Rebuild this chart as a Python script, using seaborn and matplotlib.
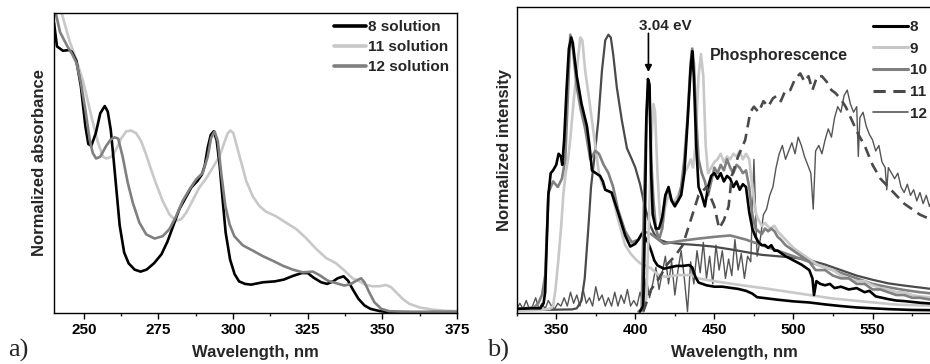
import numpy as np
import pandas as pd
import matplotlib
matplotlib.use("Agg")
import matplotlib.pyplot as plt
import seaborn as sns
from matplotlib.ticker import MultipleLocator
from matplotlib.lines import Line2D

# ---------------- absorbance in solution (panel a) ----------------
abs8_wl = [240, 241, 243, 245, 246, 247.5, 249, 250.5, 251.5, 252.5,
           254, 255.5, 257, 258, 259, 260, 261, 262, 263.5, 265,
           267, 269, 271, 273.5, 276, 278, 280, 282, 284, 286,
           288, 289.5, 290.5, 291.5, 292.5, 293.5, 294.5, 295.5, 296.5, 297.5,
           299, 300.5, 302, 304, 306, 310, 314, 317, 320, 323,
           325, 327, 329.5, 331.5, 333.5, 335, 337, 338.5, 340, 342,
           344, 346, 349, 352, 360, 375]
abs8 = [1.60, 1.47, 1.446, 1.45, 1.44, 1.39, 1.25, 1.03, 0.93, 0.92,
        0.99, 1.10, 1.14, 1.11, 1.01, 0.84, 0.66, 0.48, 0.33, 0.27,
        0.235, 0.224, 0.235, 0.27, 0.32, 0.39, 0.48, 0.57, 0.63, 0.69,
        0.725, 0.76, 0.81, 0.91, 0.98, 1.0, 0.95, 0.81, 0.62, 0.44,
        0.29, 0.21, 0.17, 0.156, 0.152, 0.165, 0.17, 0.18, 0.20, 0.216,
        0.216, 0.19, 0.165, 0.156, 0.17, 0.187, 0.198, 0.174, 0.128, 0.073,
        0.037, 0.018, 0.006, 0.0, 0.0, 0.0]

abs11_wl = [241.5, 243.5, 245.2, 247.4, 249.7, 251.3, 253, 254.7, 256.4, 257.5,
            259.2, 260.8, 262.5, 264.2, 265.8, 267.5, 269.2, 270.9, 272.5, 274.2,
            276.4, 278.7, 280.9, 282.6, 284.3, 286.5, 288.7, 291, 293.2, 295.4,
            297.1, 298.2, 299.1, 300.1, 301.2, 302.7, 304.4, 306.6, 308.8, 311,
            314.4, 317.7, 321.1, 324.4, 327.8, 331.1, 334.5, 337.3, 340, 342.3,
            344.5, 346.8, 349, 351.2, 352.9, 354.6, 356.8, 359, 362.4, 366.9,
            371.4, 375]
abs11 = [1.72, 1.60, 1.50, 1.40, 1.28, 1.17, 1.05, 0.94, 0.86, 0.85,
         0.86, 0.90, 0.96, 1.0, 1.005, 0.99, 0.945, 0.87, 0.79, 0.71,
         0.615, 0.54, 0.505, 0.514, 0.55, 0.62, 0.69, 0.74, 0.80, 0.86,
         0.94, 0.99, 1.005, 0.99, 0.92, 0.83, 0.725, 0.64, 0.587, 0.556,
         0.53, 0.495, 0.46, 0.41, 0.35, 0.30, 0.27, 0.23, 0.187, 0.17,
         0.15, 0.143, 0.143, 0.15, 0.138, 0.11, 0.073, 0.046, 0.026, 0.013,
         0.007, 0.005]

abs12_wl = [240, 242, 244.5, 246, 247.5, 249, 250.5, 252, 253, 254.1,
            255.5, 257.5, 259, 260.3, 261.5, 263, 264.7, 266.4, 268.6, 270.9,
            273.7, 276.4, 278.7, 280.9, 283.1, 285.4, 287.6, 289.8, 291.5, 292.6,
            293.8, 294.9, 296, 297.4, 298.8, 300.4, 303.2, 306.6, 309.9, 313.3,
            316.6, 320, 323.3, 326.7, 328.9, 331.7, 334.5, 337.3, 339.5, 341.7,
            342.9, 344, 345.6, 347.3, 349.6, 352.3, 360, 375]
abs12 = [1.70, 1.55, 1.47, 1.43, 1.38, 1.27, 1.12, 0.95, 0.88, 0.85,
         0.86, 0.92, 0.955, 0.967, 0.96, 0.86, 0.716, 0.605, 0.495, 0.43,
         0.407, 0.42, 0.46, 0.53, 0.615, 0.68, 0.734, 0.77, 0.86, 0.963,
         1.0, 0.945, 0.77, 0.587, 0.486, 0.42, 0.37, 0.34, 0.31, 0.284,
         0.257, 0.235, 0.22, 0.224, 0.205, 0.174, 0.16, 0.147, 0.156, 0.178,
         0.187, 0.165, 0.11, 0.055, 0.018, 0.005, 0.0, 0.0]

abs_labels = ["8 solution", "11 solution", "12 solution"]
abs_ticks = [250, 275, 300, 325, 350, 375]

# ---------------- emission (panel b) ----------------
fl8_wl = [325, 335, 340, 342, 343, 344, 345, 346.5, 348, 350,
          351.5, 353, 353.8, 355, 356.5, 358, 359.5, 360.5, 361.5, 363,
          366, 369.4, 371, 372.6, 375, 377.7, 379.5, 381, 385, 389,
          393.6, 396.8, 400, 402, 404, 406, 408, 410, 412, 414,
          418, 422, 426, 430, 434, 436, 438, 440, 445, 450,
          455, 460, 465, 470, 474, 477, 480, 490, 500, 510,
          520, 530, 540, 550, 560, 575, 590, 600]
fl8 = [0.01, 0.012, 0.012, 0.03, 0.07, 0.25, 0.42, 0.5, 0.51, 0.53,
       0.57, 0.56, 0.53, 0.62, 0.8, 0.95, 0.99, 0.97, 0.92, 0.85,
       0.75, 0.67, 0.6, 0.51, 0.5, 0.49, 0.47, 0.44, 0.43, 0.36,
       0.275, 0.235, 0.245, 0.26, 0.28, 0.27, 0.25, 0.22, 0.185, 0.167,
       0.155, 0.16, 0.165, 0.165, 0.168, 0.16, 0.125, 0.105, 0.095, 0.09,
       0.09, 0.086, 0.082, 0.075, 0.065, 0.052, 0.05, 0.043, 0.037, 0.033,
       0.026, 0.02, 0.015, 0.012, 0.009, 0.006, 0.005, 0.004]

fl9_wl = [325, 340, 346, 348, 349.5, 351.4, 353, 354.6, 356, 357.5,
          359, 361, 363, 365.2, 366.5, 368.3, 370.5, 372.6, 375.8, 377,
          379, 381, 385, 389.2, 393.6, 397, 400, 403, 406.3, 410,
          413, 416, 420, 427, 435, 440, 452, 465, 474, 482,
          503, 524, 545, 566, 586, 600]
fl9 = [0.005, 0.006, 0.01, 0.02, 0.08, 0.19, 0.3, 0.43, 0.5, 0.55,
       0.63, 0.76, 0.87, 0.99, 0.98, 0.87, 0.78, 0.69, 0.55, 0.5,
       0.46, 0.44, 0.43, 0.33, 0.24, 0.21, 0.19, 0.175, 0.167, 0.156,
       0.14, 0.128, 0.126, 0.132, 0.132, 0.12, 0.108, 0.097, 0.09, 0.084,
       0.066, 0.048, 0.036, 0.025, 0.022, 0.02]

fl10_wl = [325, 336, 338.6, 341, 343, 345.1, 348, 351, 353.6, 355.7,
           357.5, 358.9, 360.5, 363, 365.5, 368.3, 371.5, 374.7, 377, 380,
           383, 386, 389, 393.6, 397.8, 401.9, 405, 410, 418, 428,
           439, 450, 460, 470, 480, 490, 500, 510, 520, 530,
           540, 550, 560, 570, 580, 590, 600]
fl10 = [0.01, 0.015, 0.03, 0.06, 0.13, 0.43, 0.47, 0.45, 0.48, 0.55,
        0.8, 1.0, 0.95, 0.81, 0.73, 0.66, 0.55, 0.58, 0.57, 0.53,
        0.5, 0.45, 0.37, 0.29, 0.25, 0.26, 0.29, 0.28, 0.245, 0.255,
        0.263, 0.27, 0.275, 0.26, 0.24, 0.22, 0.2, 0.18, 0.16, 0.14,
        0.12, 0.1, 0.088, 0.078, 0.07, 0.064, 0.06]

fl11_wl = [325, 360, 363, 366, 368, 370.4, 372, 374, 376.6, 378.9,
           381, 383, 384.5, 386, 388.3, 391.5, 394.7, 397.8, 400, 403,
           406, 409.5, 412, 415, 420, 428, 440, 449, 460, 470,
           480, 490, 500, 510, 520, 530, 540, 550, 560, 570,
           580, 590, 600]
fl11 = [0.005, 0.008, 0.012, 0.04, 0.12, 0.31, 0.45, 0.55, 0.69, 0.87,
        0.98, 1.0, 0.99, 0.93, 0.81, 0.69, 0.59, 0.55, 0.52, 0.46,
        0.38, 0.31, 0.28, 0.26, 0.25, 0.245, 0.24, 0.235, 0.225, 0.215,
        0.205, 0.2, 0.195, 0.186, 0.17, 0.15, 0.13, 0.115, 0.102, 0.094,
        0.087, 0.08, 0.075]

ph8_wl = [403, 405, 406, 407, 408, 409, 410, 411, 413, 415,
          417, 419, 421, 423, 425, 427, 429, 431, 433, 435,
          436, 437, 438.5, 440, 442, 444, 446, 448, 450, 452,
          454, 456, 458, 460, 462, 464, 466, 468, 470, 472,
          474, 476, 478, 480, 482, 484, 486, 488, 490, 495,
          500, 505, 510, 512, 513, 514.5, 517, 520, 523, 526,
          530, 535, 540, 545, 548, 552, 556, 560, 565, 570,
          575, 580, 590, 600]
ph8 = [0.0, 0.02, 0.3, 0.7, 0.84, 0.82, 0.5, 0.35, 0.3, 0.3,
       0.34, 0.42, 0.45, 0.4, 0.38, 0.4, 0.42, 0.5, 0.68, 0.88,
       0.94, 0.85, 0.6, 0.45, 0.42, 0.38, 0.45, 0.49, 0.5, 0.48,
       0.5, 0.47, 0.49, 0.48, 0.45, 0.47, 0.44, 0.46, 0.45, 0.36,
       0.3, 0.27, 0.25, 0.24, 0.24, 0.23, 0.24, 0.22, 0.22, 0.2,
       0.185, 0.17, 0.15, 0.12, 0.06, 0.11, 0.1, 0.095, 0.1, 0.085,
       0.09, 0.08, 0.085, 0.07, 0.075, 0.055, 0.05, 0.045, 0.04, 0.038,
       0.035, 0.032, 0.028, 0.025]

ph9_wl = [405, 407, 408.5, 410, 411.5, 412.5, 414, 415.5, 417, 419,
          421, 423, 425, 427, 429, 431, 433, 435, 436.5, 438,
          440, 441.5, 443, 444.5, 446, 448, 450, 452, 454, 456,
          458, 460, 462, 464, 466, 468, 470, 472, 474, 476,
          478, 480, 482, 485, 488, 490, 495, 500, 505, 510,
          515, 520, 525, 530, 535, 540, 545, 550, 555, 560,
          565, 570, 575, 580, 590, 600]
ph9 = [0.0, 0.05, 0.3, 0.6, 0.75, 0.72, 0.5, 0.35, 0.3, 0.38,
       0.42, 0.4, 0.4, 0.42, 0.45, 0.5, 0.52, 0.55, 0.52, 0.6,
       0.85, 0.93, 0.85, 0.6, 0.5, 0.52, 0.54, 0.55, 0.57, 0.54,
       0.56, 0.55, 0.57, 0.56, 0.58, 0.55, 0.57, 0.55, 0.45, 0.36,
       0.33, 0.31, 0.32, 0.3, 0.31, 0.29, 0.26, 0.23, 0.21, 0.19,
       0.17, 0.16, 0.15, 0.13, 0.12, 0.11, 0.11, 0.095, 0.085, 0.08,
       0.07, 0.07, 0.06, 0.055, 0.05, 0.045]

ph10_wl = [402, 404, 405.5, 407, 408, 409, 410, 411.5, 413, 415,
           417, 419, 421, 423, 425, 427, 429, 431, 433, 435,
           436, 437, 438.5, 440, 442, 444, 446, 448, 450, 452,
           454, 456, 458, 460, 462, 464, 466, 468, 470, 472,
           474, 476, 478, 480, 482, 484, 486, 488, 490, 492,
           495, 500, 505, 510, 514, 520, 525, 530, 535, 540,
           545, 550, 555, 560, 565, 570, 575, 580, 590, 600]
ph10 = [0.0, 0.01, 0.4, 0.7, 0.8, 0.78, 0.55, 0.4, 0.3, 0.26,
        0.3, 0.42, 0.44, 0.4, 0.39, 0.4, 0.45, 0.55, 0.7, 0.9,
        0.95, 0.9, 0.7, 0.55, 0.5, 0.47, 0.42, 0.47, 0.52, 0.5,
        0.53, 0.51, 0.55, 0.52, 0.5, 0.53, 0.52, 0.5, 0.51, 0.45,
        0.35, 0.3, 0.29, 0.28, 0.3, 0.29, 0.3, 0.29, 0.27, 0.26,
        0.24, 0.22, 0.2, 0.18, 0.15, 0.15, 0.13, 0.12, 0.12, 0.1,
        0.1, 0.08, 0.08, 0.07, 0.06, 0.06, 0.05, 0.05, 0.04, 0.035]

ph11_wl = [405, 410, 415, 420, 425, 430, 435, 440, 445, 450,
           453, 456, 459, 461, 465, 469.5, 472.7, 475, 478, 481,
           484, 487, 489.6, 492, 495, 498, 501, 504.3, 507, 509.5,
           512, 515, 518, 521, 524, 526.4, 529.6, 533, 537, 541,
           545, 550, 555, 560, 565, 570, 575, 580, 586, 592,
           600]
ph11 = [0.0, 0.08, 0.12, 0.17, 0.2, 0.24, 0.33, 0.42, 0.45, 0.38,
        0.3, 0.33, 0.38, 0.49, 0.56, 0.62, 0.72, 0.74, 0.72, 0.76,
        0.74, 0.77, 0.78, 0.76, 0.8, 0.8, 0.84, 0.86, 0.83, 0.85,
        0.8, 0.85, 0.85, 0.83, 0.8, 0.79, 0.77, 0.74, 0.69, 0.64,
        0.6, 0.53, 0.48, 0.45, 0.42, 0.39, 0.37, 0.35, 0.335, 0.32,
        0.3]

ph12_wl = (list(np.arange(325, 512, 2)) + [512.5] + list(np.arange(514, 541, 2))
           + [541, 542] + list(np.arange(544, 559, 2)) + [559]
           + list(np.arange(560, 591, 2)) + [595, 600])
ph12 = [0.01, 0.03, 0.01, 0.04, 0.01, 0.02, 0.05, 0.01, 0.03, 0.01,
        0.04, 0.02, 0.01, 0.03, 0.02, 0.05, 0.02, 0.07, 0.03, 0.06,
        0.02, 0.08, 0.03, 0.05, 0.02, 0.09, 0.04, 0.06, 0.02, 0.05,
        0.02, 0.07, 0.02, 0.06, 0.03, 0.08, 0.02, 0.04, 0.02, 0.07,
        0.03, 0.12, 0.05, 0.10, 0.16, 0.08, 0.14, 0.20, 0.10, 0.18,
        0.06, 0.15, 0.22, 0.12, 0.0, 0.18, 0.10, 0.22, 0.14, 0.25,
        0.12, 0.20, 0.10, 0.24, 0.15, 0.22, 0.12, 0.19, 0.13, 0.26,
        0.15, 0.21, 0.12, 0.20, 0.18, 0.55, 0.20, 0.26, 0.35, 0.37,
        0.42, 0.45, 0.52, 0.57, 0.60, 0.55, 0.58, 0.61, 0.57, 0.63,
        0.60, 0.56, 0.53, 0.50,
        0.37,
        0.58, 0.60, 0.57, 0.62, 0.66, 0.63, 0.70, 0.74, 0.72, 0.78,
        0.80, 0.75, 0.72, 0.74,
        0.56, 0.70,
        0.72, 0.67, 0.64, 0.62, 0.58, 0.60, 0.54, 0.52,
        0.44,
        0.52, 0.50, 0.48, 0.50, 0.45, 0.43, 0.46, 0.42, 0.44, 0.40,
        0.43, 0.39, 0.42, 0.38, 0.41, 0.40,
        0.38, 0.37]

em_labels = ["8", "9", "10", "11", "12"]
em_ticks = [350, 400, 450, 500, 550]

# ---------------- styling ----------------
sns.set_theme(style="ticks")
plt.rcParams["font.family"] = ["Liberation Sans", "DejaVu Sans"]
plt.rcParams["font.weight"] = "bold"
plt.rcParams["axes.labelweight"] = "bold"
plt.rcParams["axes.linewidth"] = 1.0
plt.rcParams["axes.edgecolor"] = "black"

BLACK = "#000000"
LIGHT = "#c8c8c8"
MID = "#808080"
DARK = "#4a4a4a"
THIN = "#555555"

fig = plt.figure(figsize=(9.3, 3.64), dpi=100)
ax_a = fig.add_axes([54 / 930, 51 / 364, 403 / 930, 300 / 364])
ax_b = fig.add_axes([516.7 / 930, 51 / 364, 434.9 / 930, 306 / 364])


def trace(ax, x, y, color, lw, **kw):
    df = pd.DataFrame({"wl": x, "val": y})
    sns.lineplot(data=df, x="wl", y="val", ax=ax, color=color, lw=lw,
                 estimator=None, sort=False, legend=False, **kw)


# panel a
trace(ax_a, abs11_wl, abs11, LIGHT, 1.9)
trace(ax_a, abs8_wl, abs8, BLACK, 1.9)
trace(ax_a, abs12_wl, abs12, MID, 1.9)
ax_a.set_xlim(240, 375)
ax_a.set_ylim(-0.005, 1.655)
ax_a.set_yticks([])
ax_a.set_xticks(abs_ticks)
ax_a.xaxis.set_minor_locator(MultipleLocator(12.5))
ax_a.set_xlabel("Wavelength, nm", fontsize=12)
ax_a.set_ylabel("Normalized absorbance", fontsize=12)
ax_a.xaxis.set_label_coords(0.5, -0.107)
ax_a.yaxis.set_label_coords(-0.017, 0.5)

handles_a = [Line2D([], [], color=BLACK, lw=2.6),
             Line2D([], [], color=LIGHT, lw=2.6),
             Line2D([], [], color=MID, lw=2.6)]
ax_a.legend(handles_a, abs_labels, loc="upper left", bbox_to_anchor=(0.695, 0.977),
            frameon=False, fontsize=11, handlelength=2.1, handletextpad=0.1,
            labelspacing=0.40, borderpad=0, borderaxespad=0)

# panel b
trace(ax_b, ph12_wl, ph12, THIN, 1.0)
trace(ax_b, fl11_wl, fl11, DARK, 1.6)
trace(ax_b, fl9_wl, fl9, LIGHT, 1.9)
trace(ax_b, fl10_wl, fl10, MID, 1.9)
trace(ax_b, fl8_wl, fl8, BLACK, 1.9)
trace(ax_b, ph9_wl, ph9, LIGHT, 1.9)
trace(ax_b, ph10_wl, ph10, MID, 1.9)
trace(ax_b, ph8_wl, ph8, BLACK, 1.9)
trace(ax_b, ph11_wl, ph11, DARK, 1.9, linestyle=(0, (4, 2.5)))
ax_b.set_xlim(325, 600)
ax_b.set_ylim(-0.005, 1.1)
ax_b.set_yticks([])
ax_b.set_xticks(em_ticks)
ax_b.xaxis.set_minor_locator(MultipleLocator(25))
ax_b.set_xlabel("Wavelength, nm", fontsize=12)
ax_b.set_ylabel("Normalized intensity", fontsize=12)
ax_b.xaxis.set_label_coords(0.5, -0.105)
ax_b.yaxis.set_label_coords(-0.011, 0.533)

ax_b.text(418.9, 1.032, "3.04 eV", fontsize=11, fontweight="bold",
          ha="center", va="center")
ax_b.annotate("", xy=(408.3, 0.865), xytext=(408.3, 1.005),
              arrowprops=dict(arrowstyle="-|>", color="black", lw=1.2,
                              mutation_scale=10, shrinkA=0, shrinkB=0))
ax_b.text(447.4, 0.924, "Phosphorescence", fontsize=11.5, fontweight="bold",
          ha="left", va="center")

handles_b = [Line2D([], [], color=BLACK, lw=2.2),
             Line2D([], [], color=LIGHT, lw=2.2),
             Line2D([], [], color=MID, lw=2.2),
             Line2D([], [], color=DARK, lw=2.2, linestyle=(0, (4, 2.5))),
             Line2D([], [], color=THIN, lw=1.2)]
ax_b.legend(handles_b, em_labels, loc="upper left", bbox_to_anchor=(0.819, 0.957),
            frameon=False, fontsize=11, handlelength=2.3, handletextpad=0.1,
            labelspacing=0.50, borderpad=0, borderaxespad=0)

for ax in (ax_a, ax_b):
    ax.tick_params(axis="x", which="major", length=4, width=1, direction="out",
                   pad=3, labelsize=11, colors="black")
    ax.tick_params(axis="x", which="minor", length=2.5, width=1, direction="out")
    for lab in ax.get_xticklabels():
        lab.set_fontweight("bold")
    for s in ax.spines.values():
        s.set_visible(True)
        s.set_color("black")

fig.text(8 / 930, 0.02, "a)", fontsize=19, family=["Liberation Serif", "DejaVu Serif"],
         fontweight="normal", ha="left", va="baseline")
fig.text(487 / 930, 0.02, "b)", fontsize=19, family=["Liberation Serif", "DejaVu Serif"],
         fontweight="normal", ha="left", va="baseline")

fig.savefig("out.png", dpi=100)
